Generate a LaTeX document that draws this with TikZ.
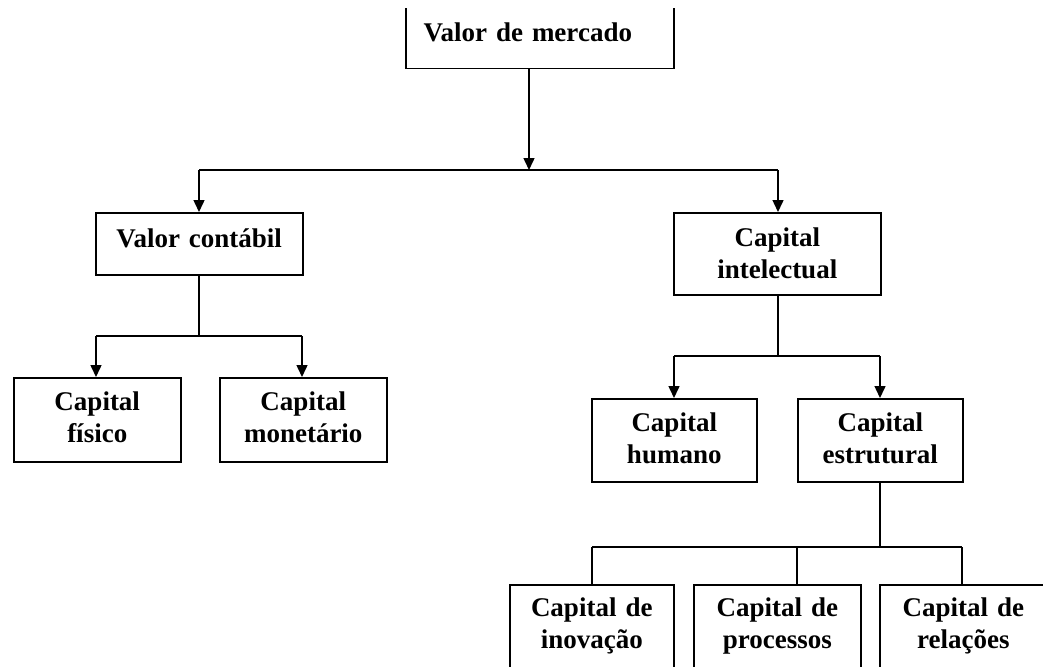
\documentclass[tikz,border=0pt]{standalone}
\usepackage{fontspec}
\setmainfont{Liberation Serif}
\usetikzlibrary{arrows.meta}
\begin{document}
\begin{tikzpicture}[x=1pt,y=-1pt,
  box/.style={draw, line width=1.5pt, anchor=north west, inner xsep=0pt, inner ysep=0pt,
    align=center, font=\bfseries\fontsize{27}{32}\selectfont},
  link/.style={line width=1.5pt},
  arr/.style={link, -{Triangle[width=11pt,length=12pt]}}]
\useasboundingbox (0,0) rectangle (1043,666);
\clip (0,9) rectangle (1043,666);
% boxes
\node[box, text width=268pt, text height=41pt, text depth=27pt] (vm) at (405,0) {Valor de mercado\hspace*{24pt}\mbox{}};
\node[box, text width=207pt, text height=35pt, text depth=27pt] (vc) at (95,212) {Valor contábil};
\node[box, text width=207pt, text height=34pt, text depth=48pt] (ci) at (673,212) {Capital\\intelectual};
\node[box, text width=167pt, text height=33pt, text depth=51pt] (cf) at (13,377) {Capital\\físico};
\node[box, text width=167pt, text height=33pt, text depth=51pt] (cm) at (219,377) {Capital\\monetário};
\node[box, text width=165pt, text height=33pt, text depth=50pt] (ch) at (591,398) {Capital\\humano};
\node[box, text width=165pt, text height=33pt, text depth=50pt] (ce) at (797,398) {Capital\\estrutural};
\node[box, text width=164pt, text height=32pt, text depth=56pt] (inov) at (509,584) {Capital de\\inovação};
\node[box, text width=167pt, text height=32pt, text depth=56pt] (proc) at (693,584) {Capital de\\processos};
\node[box, text width=167pt, text height=32pt, text depth=56pt] (rel) at (879,584) {Capital de\\relações};
% junction coordinates
\coordinate (j0) at (529,170);
\coordinate (j0l) at (199,170);
\coordinate (j0r) at (778,170);
\coordinate (j1) at (199,336);
\coordinate (j1l) at (96,336);
\coordinate (j1r) at (302,336);
\coordinate (j2) at (778,356);
\coordinate (j2l) at (674,356);
\coordinate (j2r) at (880,356);
\coordinate (j3) at (880,547);
\coordinate (j3l) at (592,547);
\coordinate (j3m) at (797,547);
\coordinate (j3r) at (962,547);
% level 0
\draw[arr] (vm.south -| j0) -- (j0);
\draw[link] (j0l) -- (j0r);
\draw[arr] (j0l) -- (j0l |- vc.north);
\draw[arr] (j0r) -- (j0r |- ci.north);
% valor contabil
\draw[link] (vc.south -| j1) -- (j1);
\draw[link] (j1l) -- (j1r);
\draw[arr] (j1l) -- (j1l |- cf.north);
\draw[arr] (j1r) -- (j1r |- cm.north);
% capital intelectual
\draw[link] (ci.south -| j2) -- (j2);
\draw[link] (j2l) -- (j2r);
\draw[arr] (j2l) -- (j2l |- ch.north);
\draw[arr] (j2r) -- (j2r |- ce.north);
% capital estrutural
\draw[link] (ce.south -| j3) -- (j3);
\draw[link] (j3l) -- (j3r);
\draw[link] (j3l) -- (j3l |- inov.north);
\draw[link] (j3m) -- (j3m |- proc.north);
\draw[link] (j3r) -- (j3r |- rel.north);
\end{tikzpicture}
\end{document}
